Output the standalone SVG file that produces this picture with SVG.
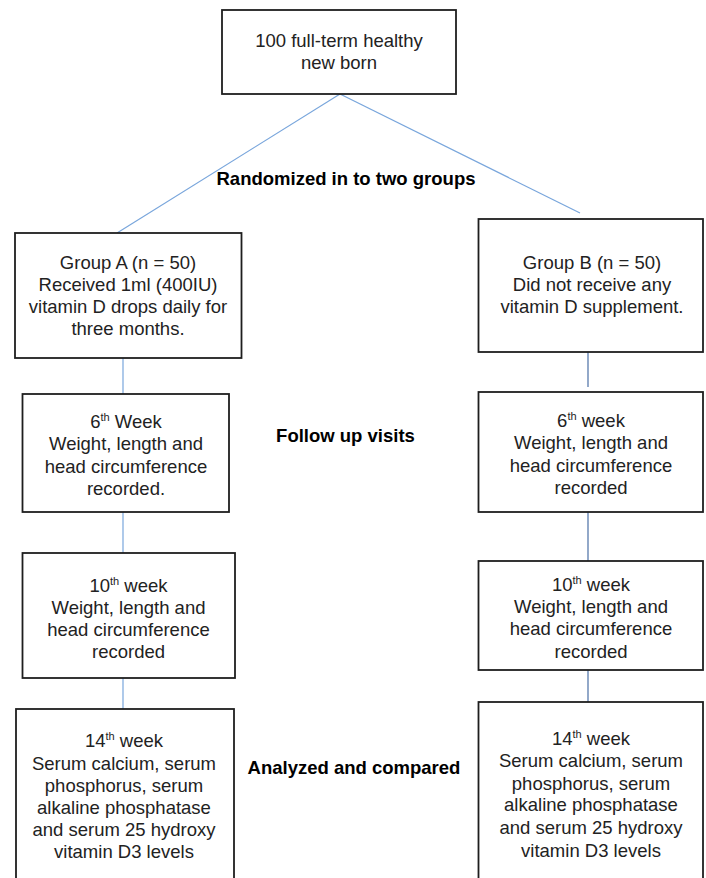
<svg xmlns="http://www.w3.org/2000/svg" width="706" height="878" viewBox="0 0 706 878">
<style>
  .box { fill: #ffffff; stroke: #1e1e1e; stroke-width: 1.8; }
  .t { font-family: "Liberation Sans", Arial, sans-serif; font-size: 18.5px; fill: #222222; text-anchor: middle; }
  .b { font-family: "Liberation Sans", Arial, sans-serif; font-size: 18.5px; font-weight: bold; fill: #000000; text-anchor: middle; }
  .sup { font-size: 11px; }
  .c1 { stroke: #79a6dc; stroke-width: 1.2; fill: none; }
  .c2 { stroke: #4a6fa5; stroke-width: 1.2; fill: none; }
</style>
<rect width="706" height="878" fill="#ffffff"/>
<g id="connectors">
  <line class="c1" x1="340" y1="94" x2="117" y2="233"/>
  <line class="c1" x1="340" y1="94" x2="580" y2="213"/>
  <line class="c1" x1="123" y1="358" x2="123" y2="394"/>
  <line class="c1" x1="123" y1="512" x2="123" y2="553"/>
  <line class="c1" x1="123" y1="678" x2="123" y2="709"/>
  <line class="c2" x1="588" y1="352" x2="588" y2="387"/>
  <line class="c2" x1="588" y1="512" x2="588" y2="561"/>
  <line class="c2" x1="588" y1="670" x2="588" y2="702"/>
</g>
<g id="start">
  <rect class="box" x="222" y="10" width="234" height="84"/>
  <text class="t" x="339" y="46.5">100 full-term healthy</text>
  <text class="t" x="339" y="68.5">new born</text>
</g>
<g id="label-randomized">
  <text class="b" x="346" y="184.5">Randomized in to two groups</text>
</g>
<g id="groupA">
  <rect class="box" x="15" y="233" width="226.5" height="125"/>
  <text class="t" x="128" y="268.5">Group A (n = 50)</text>
  <text class="t" x="128" y="290.5">Received 1ml (400IU)</text>
  <text class="t" x="128" y="312.5">vitamin D drops daily for</text>
  <text class="t" x="128" y="334.5">three months.</text>
</g>
<g id="groupB">
  <rect class="box" x="478.5" y="219" width="224.5" height="133"/>
  <text class="t" x="592" y="268.5">Group B (n = 50)</text>
  <text class="t" x="592" y="290.5">Did not receive any</text>
  <text class="t" x="592" y="312.5">vitamin D supplement.</text>
</g>
<g id="label-followup">
  <text class="b" x="345.5" y="441.5">Follow up visits</text>
</g>
<g id="A-week6">
  <rect class="box" x="22.5" y="394" width="206.5" height="118"/>
  <text class="t" x="126" y="428">6<tspan class="sup" dy="-7">th</tspan><tspan dy="7"> Week</tspan></text>
  <text class="t" x="126" y="450">Weight, length and</text>
  <text class="t" x="126" y="472.5">head circumference</text>
  <text class="t" x="126" y="494.5">recorded.</text>
</g>
<g id="B-week6">
  <rect class="box" x="478.5" y="392" width="224.5" height="120"/>
  <text class="t" x="591" y="426.5">6<tspan class="sup" dy="-7">th</tspan><tspan dy="7"> week</tspan></text>
  <text class="t" x="591" y="448.5">Weight, length and</text>
  <text class="t" x="591" y="471.5">head circumference</text>
  <text class="t" x="591" y="493.5">recorded</text>
</g>
<g id="A-week10">
  <rect class="box" x="22.5" y="553" width="212.5" height="125"/>
  <text class="t" x="128.5" y="591.5">10<tspan class="sup" dy="-7">th</tspan><tspan dy="7"> week</tspan></text>
  <text class="t" x="128.5" y="613.5">Weight, length and</text>
  <text class="t" x="128.5" y="635.5">head circumference</text>
  <text class="t" x="128.5" y="657.5">recorded</text>
</g>
<g id="B-week10">
  <rect class="box" x="478.5" y="561" width="224.5" height="109"/>
  <text class="t" x="591" y="590.5">10<tspan class="sup" dy="-7">th</tspan><tspan dy="7"> week</tspan></text>
  <text class="t" x="591" y="612.5">Weight, length and</text>
  <text class="t" x="591" y="634.5">head circumference</text>
  <text class="t" x="591" y="657.5">recorded</text>
</g>
<g id="label-analyzed">
  <text class="b" x="354" y="773.5">Analyzed and compared</text>
</g>
<g id="A-week14">
  <rect class="box" x="16" y="709" width="218" height="180"/>
  <text class="t" x="124" y="747">14<tspan class="sup" dy="-7">th</tspan><tspan dy="7"> week</tspan></text>
  <text class="t" x="124" y="770">Serum calcium, serum</text>
  <text class="t" x="124" y="792">phosphorus, serum</text>
  <text class="t" x="124" y="814">alkaline phosphatase</text>
  <text class="t" x="124" y="836">and serum 25 hydroxy</text>
  <text class="t" x="124" y="858">vitamin D3 levels</text>
</g>
<g id="B-week14">
  <rect class="box" x="478.5" y="702" width="224.5" height="190"/>
  <text class="t" x="591" y="744.5">14<tspan class="sup" dy="-7">th</tspan><tspan dy="7"> week</tspan></text>
  <text class="t" x="591" y="766.5">Serum calcium, serum</text>
  <text class="t" x="591" y="789.5">phosphorus, serum</text>
  <text class="t" x="591" y="810.5">alkaline phosphatase</text>
  <text class="t" x="591" y="833.5">and serum 25 hydroxy</text>
  <text class="t" x="591" y="856.5">vitamin D3 levels</text>
</g>
</svg>
